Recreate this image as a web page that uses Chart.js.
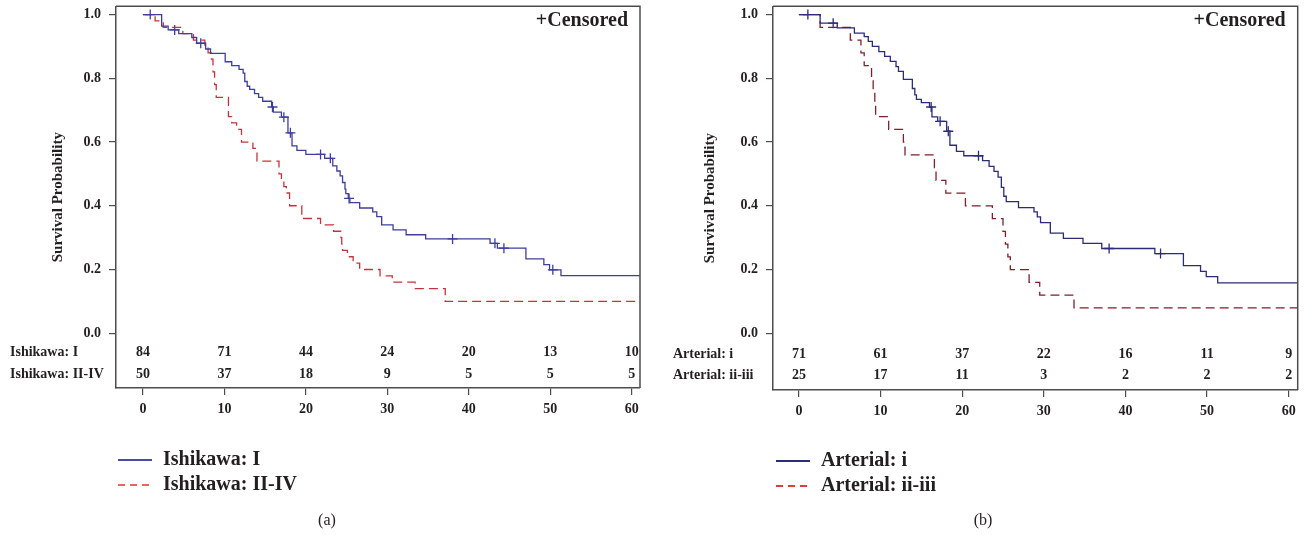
<!DOCTYPE html>
<html>
<head>
<meta charset="utf-8">
<script src="https://cdn.jsdelivr.net/npm/chart.js@4.4.0/dist/chart.umd.min.js"></script>
<style>
  body { margin: 0; background: #fff; }
  canvas { position: absolute; top: 0; }
</style>
</head>
<body>
<canvas id="chartA" width="660" height="537" style="left:0px"></canvas>
<canvas id="chartB" width="644" height="537" style="left:660px"></canvas>
<script>
// numbers at risk are read at these months
var riskTimes = [0, 10, 20, 30, 40, 50, 60];
var yTicks = [0, 0.2, 0.4, 0.6, 0.8, 1.0];

// (a) Ishikawa
var ishI_time = [0, 2.3, 3.1, 4.4, 6.0, 6.6, 7.7, 8.3, 10.1, 10.9, 11.8, 12.3, 12.5, 12.8, 13.1, 13.7, 14.2, 14.7, 15.8, 16.0, 17.0, 17.8, 18.3, 18.9, 20.0, 22.3, 23.3, 23.8, 24.2, 24.5, 24.8, 24.9, 25.2, 25.4, 26.6, 28.2, 28.7, 29.3, 30.7, 32.3, 34.7, 42.6, 43.5, 47.0, 49.2, 49.9, 51.3, 61];
var ishI_surv = [1.0, 0.964, 0.952, 0.940, 0.928, 0.910, 0.892, 0.878, 0.852, 0.840, 0.828, 0.816, 0.790, 0.775, 0.765, 0.752, 0.740, 0.728, 0.710, 0.694, 0.678, 0.629, 0.588, 0.574, 0.561, 0.549, 0.525, 0.509, 0.494, 0.473, 0.452, 0.438, 0.423, 0.410, 0.393, 0.381, 0.366, 0.340, 0.324, 0.309, 0.296, 0.282, 0.267, 0.233, 0.215, 0.199, 0.181, 0.181];
var ishI_censTime = [0.9, 3.9, 7.1, 15.9, 17.3, 18.1, 21.8, 23.0, 25.3, 38.0, 43.2, 44.3, 50.3];
var ishI_censSurv = [1.0, 0.952, 0.910, 0.710, 0.678, 0.629, 0.561, 0.549, 0.423, 0.296, 0.282, 0.267, 0.199];
var ishII_time = [0, 1.5, 2.5, 4.9, 6.2, 7.6, 8.0, 8.4, 8.6, 8.8, 9.0, 10.5, 10.9, 11.5, 12.1, 13.5, 14.0, 16.7, 17.0, 17.3, 17.6, 18.0, 19.5, 21.8, 23.4, 24.3, 24.4, 24.5, 25.1, 25.8, 26.6, 29.1, 30.6, 33.4, 37.1, 61];
var ishII_surv = [1.0, 0.98, 0.96, 0.94, 0.92, 0.90, 0.88, 0.86, 0.82, 0.78, 0.74, 0.68, 0.66, 0.64, 0.60, 0.58, 0.54, 0.50, 0.48, 0.46, 0.44, 0.40, 0.36, 0.34, 0.32, 0.30, 0.28, 0.26, 0.24, 0.22, 0.20, 0.18, 0.16, 0.14, 0.10, 0.10];
var ishI_risk = [84, 71, 44, 24, 20, 13, 10];
var ishII_risk = [50, 37, 18, 9, 5, 5, 5];

// (b) Arterial
var artI_time = [0, 2.6, 4.7, 6.8, 8.0, 8.5, 9.0, 9.8, 10.5, 11.2, 11.9, 12.2, 12.8, 13.9, 14.2, 14.4, 15.0, 16.0, 16.3, 17.0, 18.1, 18.5, 19.3, 20.2, 22.5, 23.3, 23.9, 24.4, 24.8, 25.1, 25.4, 26.9, 28.8, 29.2, 29.6, 30.8, 32.4, 34.8, 37.1, 43.6, 47.1, 49.2, 49.9, 51.3, 61.1];
var artI_surv = [1.0, 0.973, 0.958, 0.942, 0.931, 0.916, 0.900, 0.884, 0.869, 0.853, 0.837, 0.822, 0.797, 0.768, 0.748, 0.734, 0.724, 0.710, 0.679, 0.665, 0.634, 0.590, 0.571, 0.557, 0.542, 0.524, 0.508, 0.490, 0.458, 0.430, 0.413, 0.394, 0.381, 0.365, 0.347, 0.314, 0.298, 0.282, 0.266, 0.250, 0.212, 0.194, 0.178, 0.158, 0.158];
var artI_censTime = [1.1, 4.2, 16.2, 17.3, 18.3, 22.0, 38.0, 44.3];
var artI_censSurv = [1.0, 0.973, 0.710, 0.665, 0.634, 0.557, 0.266, 0.250];
var artII_time = [0, 2.6, 6.3, 7.6, 8.0, 8.9, 9.1, 9.3, 9.4, 11.0, 12.8, 13.0, 16.6, 16.8, 18.0, 20.4, 23.7, 25.0, 25.3, 25.6, 25.9, 28.2, 29.5, 33.7, 61.1];
var artII_surv = [1.0, 0.96, 0.92, 0.88, 0.84, 0.80, 0.76, 0.72, 0.68, 0.64, 0.60, 0.56, 0.52, 0.48, 0.44, 0.40, 0.36, 0.32, 0.28, 0.24, 0.20, 0.16, 0.12, 0.08, 0.08];
var artI_risk = [71, 61, 37, 22, 16, 11, 9];
var artII_risk = [25, 17, 11, 3, 2, 2, 2];

var textColor = '#231f20';
var frameColor = '#4d4d4d';
var serif = '"Liberation Serif", "DejaVu Serif", serif';

function pts(xs, ys) {
  return xs.map(function (x, i) { return { x: x, y: ys[i] }; });
}

// draws the top/right frame, risk table, "+Censored", legend and caption
var kmExtras = {
  id: 'kmExtras',
  afterDraw: function (chart, args, o) {
    var ctx = chart.ctx, a = chart.chartArea;
    var xs = chart.scales.x, ys = chart.scales.y;
    ctx.save();
    ctx.strokeStyle = frameColor;
    ctx.lineWidth = 1.5;
    ctx.beginPath();
    ctx.moveTo(a.left, a.top);
    ctx.lineTo(a.right, a.top);
    ctx.lineTo(a.right, a.bottom);
    ctx.stroke();

    ctx.fillStyle = textColor;
    ctx.textBaseline = 'middle';
    ctx.font = 'bold 20px ' + serif;
    ctx.textAlign = 'right';
    ctx.fillText('+Censored', a.right - 12, a.top + 15);

    var y0 = ys.getPixelForValue(0);
    ctx.font = 'bold 14px ' + serif;
    o.rows.forEach(function (row, r) {
      var y = y0 + o.rowOffsets[r];
      ctx.textAlign = 'left';
      ctx.fillText(row.label, o.labelX, y);
      ctx.textAlign = 'center';
      riskTimes.forEach(function (t, i) {
        ctx.fillText(String(row.counts[i]), xs.getPixelForValue(t), y);
      });
    });

    // legend
    ctx.font = 'bold 20px ' + serif;
    ctx.textAlign = 'left';
    o.rows.forEach(function (row, r) {
      var y = o.legendY + r * 25;
      ctx.strokeStyle = row.legendColor;
      ctx.lineWidth = 2;
      ctx.setLineDash(row.dash ? [7, 5] : []);
      ctx.beginPath();
      ctx.moveTo(o.legendX, y);
      ctx.lineTo(o.legendX + 34, y);
      ctx.stroke();
      ctx.fillStyle = textColor;
      ctx.fillText(row.label, o.legendX + 45, y);
    });
    ctx.setLineDash([]);

    ctx.font = '16px ' + serif;
    ctx.textAlign = 'center';
    ctx.fillText(o.caption, o.captionX, 521);
    ctx.restore();
  }
};

function makeKM(id, p) {
  var ctx = document.getElementById(id).getContext('2d');
  return new Chart(ctx, {
    type: 'line',
    data: {
      datasets: [
        {
          data: pts(p.t1, p.s1),
          borderColor: p.c1,
          borderWidth: 1.3,
          stepped: 'before',
          pointRadius: 0,
          fill: false
        },
        {
          data: pts(p.t2, p.s2),
          borderColor: p.c2,
          borderWidth: 1.3,
          borderDash: [9, 5],
          stepped: 'before',
          pointRadius: 0,
          fill: false
        },
        {
          data: pts(p.ct, p.cs),
          showLine: false,
          pointStyle: 'cross',
          pointRadius: 5,
          pointBorderWidth: 1.3,
          borderColor: p.c1,
          backgroundColor: p.c1
        }
      ]
    },
    options: {
      responsive: false,
      animation: false,
      devicePixelRatio: 1,
      layout: { padding: { left: p.padLeft, right: p.padRight, top: p.padTop, bottom: 0 } },
      plugins: {
        legend: { display: false },
        tooltip: { enabled: false },
        kmExtras: p.extras
      },
      scales: {
        x: {
          type: 'linear',
          min: p.xMin,
          max: p.xMax,
          afterBuildTicks: function (s) { s.ticks = riskTimes.map(function (v) { return { value: v }; }); },
          afterFit: function (s) { s.height = p.xHeight; s.paddingLeft = 0; s.paddingRight = 0; },
          grid: { display: true, drawOnChartArea: false, drawTicks: true, tickLength: 7, color: frameColor, lineWidth: 1.2 },
          border: { display: true, color: frameColor, width: 1.5 },
          ticks: { color: textColor, padding: 6, maxRotation: 0, font: { family: serif, size: 14, weight: 'bold' } }
        },
        y: {
          type: 'linear',
          min: p.yMin,
          max: p.yMax,
          afterBuildTicks: function (s) { s.ticks = yTicks.map(function (v) { return { value: v }; }); },
          afterFit: function (s) { s.width = p.yWidth; s.paddingTop = 0; s.paddingBottom = 0; },
          grid: { display: true, drawOnChartArea: false, drawTicks: true, tickLength: 7, color: frameColor, lineWidth: 1.2 },
          border: { display: true, color: frameColor, width: 1.5 },
          ticks: {
            color: textColor, padding: 8,
            font: { family: serif, size: 14, weight: 'bold' },
            callback: function (v) { return Number(v).toFixed(1); }
          },
          title: {
            display: true,
            text: 'Survival Probability',
            color: textColor,
            padding: { top: 4, bottom: 4 },
            font: { family: serif, size: 15, weight: 'bold' }
          }
        }
      }
    },
    plugins: [kmExtras]
  });
}

makeKM('chartA', {
  t1: ishI_time, s1: ishI_surv, t2: ishII_time, s2: ishII_surv,
  ct: ishI_censTime, cs: ishI_censSurv,
  c1: '#3e3e9e', c2: '#c1343d',
  padLeft: 45, padRight: 20, padTop: 5,
  yWidth: 71, xHeight: 149,
  xMin: -3.3, xMax: 61.0, yMin: -0.172, yMax: 1.026,
  extras: {
    labelX: 10, rowOffsets: [19, 41],
    legendX: 118, legendY: 460, caption: '(a)', captionX: 327,
    rows: [
      { label: 'Ishikawa: I', counts: ishI_risk, legendColor: '#4a4aa2', dash: false },
      { label: 'Ishikawa: II-IV', counts: ishII_risk, legendColor: '#ef6262', dash: true }
    ]
  }
});

makeKM('chartB', {
  t1: artI_time, s1: artI_surv, t2: artII_time, s2: artII_surv,
  ct: artI_censTime, cs: artI_censSurv,
  c1: '#2b2b78', c2: '#7e1f2d',
  padLeft: 37, padRight: 4, padTop: 4,
  yWidth: 76, xHeight: 147,
  xMin: -3.17, xMax: 61.1, yMin: -0.178, yMax: 1.026,
  extras: {
    labelX: 13, rowOffsets: [21, 42],
    legendX: 116, legendY: 461, caption: '(b)', captionX: 323,
    rows: [
      { label: 'Arterial: i', counts: artI_risk, legendColor: '#2c2c7c', dash: false },
      { label: 'Arterial: ii-iii', counts: artII_risk, legendColor: '#e43a3a', dash: true }
    ]
  }
});
</script>
</body>
</html>
